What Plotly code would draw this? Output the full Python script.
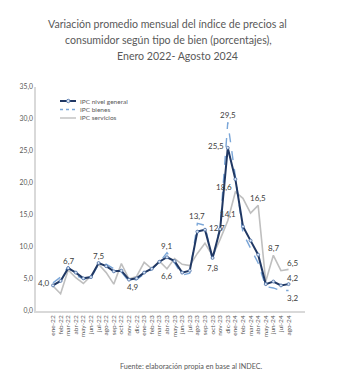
import plotly.graph_objects as go

meses = ["ene-22","feb-22","mar-22","abr-22","may-22","jun-22","jul-22","ago-22","sep-22","oct-22","nov-22","dic-22",
         "ene-23","feb-23","mar-23","abr-23","may-23","jun-23","jul-23","ago-23","sep-23","oct-23","nov-23","dic-23",
         "ene-24","feb-24","mar-24","abr-24","may-24","jun-24","jul-24","ago-24"]

ipc_general = [4.0, 4.7, 6.7, 6.0, 5.1, 5.3, 7.5, 7.0, 6.2, 6.3, 4.9, 5.1,
               6.0, 6.6, 7.7, 8.4, 7.8, 6.0, 6.3, 12.4, 12.7, 8.3, 12.8, 25.5,
               20.6, 13.2, 11.0, 8.8, 4.2, 4.6, 4.0, 4.2]
ipc_bienes = [4.4, 5.3, 6.9, 5.6, 5.0, 5.2, 7.3, 7.3, 6.6, 6.1, 4.6, 4.9,
              5.8, 6.5, 7.6, 9.1, 7.5, 5.6, 5.9, 13.7, 13.4, 7.8, 13.3, 29.5,
              21.0, 12.2, 9.8, 7.5, 3.8, 3.6, 3.2, 3.2]
ipc_servicios = [3.9, 2.7, 6.4, 5.2, 4.3, 5.5, 7.3, 6.0, 4.2, 7.4, 5.0, 5.4,
                 7.6, 6.6, 7.8, 6.6, 8.2, 7.3, 7.1, 9.0, 10.6, 8.6, 11.2, 14.1,
                 18.6, 17.6, 15.3, 16.5, 4.6, 8.7, 6.3, 6.5]

y_ticks = [0, 5, 10, 15, 20, 25, 30, 35]

# labelled points: (series, month index, position)
etiquetas = [
    ("general", 0, "left"), ("general", 2, "top"), ("general", 6, "top"), ("general", 10, "bottomright"),
    ("bienes", 15, "top"), ("servicios", 15, "bottom"), ("bienes", 19, "top"), ("general", 20, "right"),
    ("bienes", 21, "bottom"), ("general", 23, "left"), ("bienes", 23, "top"), ("servicios", 23, "top"),
    ("servicios", 24, "topleft"), ("servicios", 27, "top"), ("servicios", 29, "top"),
    ("servicios", 31, "topright"), ("general", 31, "topright"), ("bienes", 31, "bottomright"),
]
series = {"general": ipc_general, "bienes": ipc_bienes, "servicios": ipc_servicios}
nombres = ["IPC nivel general", "IPC bienes", "IPC servicios"]

W, H = 347, 391
ML, MR, MT, MB = 36, 42, 87, 80
PW, PH = W - ML - MR, H - MT - MB

def px2x(px):
    return (px - ML) / PW

def px2y(py):
    return (H - MB - py) / PH

def fmt(v):
    return f"{v:.1f}".replace(".", ",")

C_GEN, C_BIE, C_SER = "#203864", "#7aa6d8", "#bfbfbf"
FONT = "Lato, sans-serif"

fig = go.Figure()
fig.add_trace(go.Scatter(x=meses, y=ipc_servicios, name=nombres[2], mode="lines",
                         line=dict(color=C_SER, width=1.6), showlegend=False))
fig.add_trace(go.Scatter(x=meses, y=ipc_bienes, name=nombres[1], mode="lines",
                         line=dict(color=C_BIE, width=1.4, dash="dash"), showlegend=False))
fig.add_trace(go.Scatter(x=meses, y=ipc_general, name=nombres[0], mode="lines+markers",
                         line=dict(color=C_GEN, width=2),
                         marker=dict(symbol="circle", size=3, color="#dce6f4",
                                     line=dict(color="#4a6fa5", width=0.8)),
                         showlegend=False))

shifts = {
    "top": (0, 7, "center", "middle"),
    "bottom": (0, -7, "center", "middle"),
    "left": (-2, 2, "right", "middle"),
    "right": (2, 2, "left", "middle"),
    "topleft": (-1, 5, "right", "middle"),
    "topright": (4, 6, "center", "middle"),
    "bottomright": (4, -7, "center", "middle"),
}
for s, i, pos in etiquetas:
    dx, dy, xa, ya = shifts[pos]
    fig.add_annotation(x=meses[i], y=series[s][i], text=fmt(series[s][i]), showarrow=False,
                       xshift=dx, yshift=dy, xanchor=xa, yanchor=ya,
                       font=dict(family=FONT, size=8, color="#404040"))

# compact legend (top-left inside plot)
leg_rows = [101, 109.5, 118]
leg_styles = [(C_GEN, 2, "solid"), (C_BIE, 1.4, "dash"), (C_SER, 1.4, "solid")]
for name, py, (col, w, dash) in zip(nombres, leg_rows, leg_styles):
    fig.add_shape(type="line", xref="paper", yref="paper",
                  x0=px2x(60), x1=px2x(76), y0=px2y(py), y1=px2y(py),
                  line=dict(color=col, width=w, dash="dot" if dash == "dash" else "solid"))
    fig.add_annotation(text=name, xref="paper", yref="paper", x=px2x(78), y=px2y(py),
                       xanchor="left", yanchor="middle", showarrow=False,
                       font=dict(family=FONT, size=6.5, color="#595959"))
fig.add_shape(type="circle", xref="paper", yref="paper",
              x0=px2x(66.5), x1=px2x(70), y0=px2y(leg_rows[0] + 1.75), y1=px2y(leg_rows[0] - 1.75),
              line=dict(color="#4a6fa5", width=0.8), fillcolor="#dce6f4")

titulo = [("Variación promedio mensual del índice de precios al", 167, 24),
          ("consumidor según tipo de bien (porcentajes),", 168, 40),
          ("Enero 2022- Agosto 2024", 177, 56)]
for t, cx, cy in titulo:
    fig.add_annotation(text=t, xref="paper", yref="paper", x=px2x(cx), y=px2y(cy),
                       showarrow=False, xanchor="center", yanchor="middle",
                       font=dict(family=FONT, size=10.6, color="#595959"))

fig.add_annotation(text="Fuente: elaboración propia en base al INDEC.", xref="paper", yref="paper",
                   x=px2x(191), y=px2y(366), showarrow=False, xanchor="center", yanchor="middle",
                   font=dict(family=FONT, size=7.2, color="#595959"))

fig.update_layout(
    width=W, height=H,
    margin=dict(l=ML, r=MR, t=MT, b=MB),
    paper_bgcolor="white", plot_bgcolor="white",
    separators=",.",
    showlegend=False,
    font=dict(family=FONT, color="#595959"),
)
fig.update_xaxes(type="category", tickmode="array", tickvals=meses, ticktext=meses,
                 showline=True, linecolor="#d9d9d9", linewidth=1.5,
                 tickangle=-90, tickfont=dict(size=6.5, color="#595959"), ticks="",
                 showgrid=False, zeroline=False)
fig.update_yaxes(range=[0, 35], tickvals=y_ticks, tickformat=".1f", showline=True,
                 linecolor="#d9d9d9", linewidth=1.5, tickfont=dict(size=6.8, color="#595959"),
                 ticks="", showgrid=False, zeroline=False)

fig.write_html("out.html")
